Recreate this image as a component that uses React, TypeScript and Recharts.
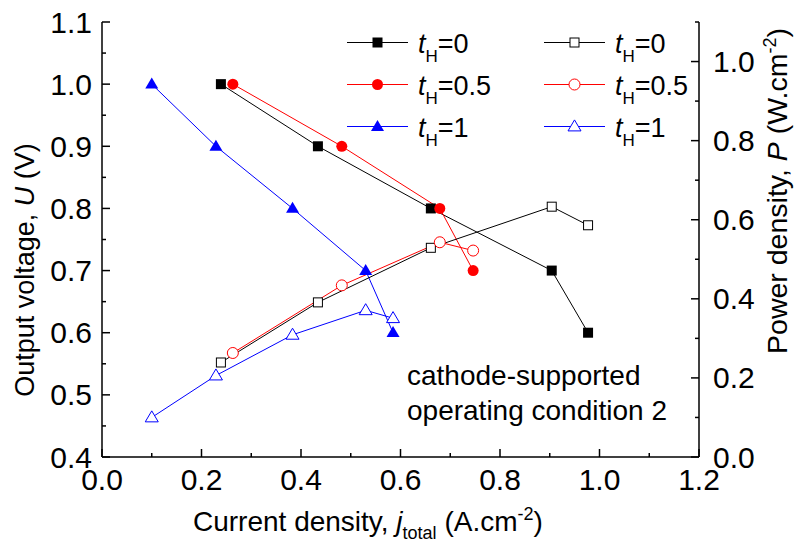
import React from "react";
import { LineChart, Line, XAxis, YAxis, Legend, Customized } from "recharts";

const FONT = '"Liberation Sans", Arial, sans-serif';

// current density (A/cm2) for each operating point
const J_T0 = [0.239, 0.434, 0.661, 0.904, 0.977];
const J_T05 = [0.263, 0.482, 0.679, 0.746];
const J_T1 = [0.1, 0.229, 0.383, 0.53, 0.585];

// output voltage (V)
const U_T0 = [1.0, 0.9, 0.8, 0.7, 0.6];
const U_T05 = [1.0, 0.9, 0.8, 0.7];
const U_T1 = [1.0, 0.9, 0.8, 0.7, 0.6];

// power density (W/cm2)
const P_T0 = [0.239, 0.391, 0.529, 0.633, 0.586];
const P_T05 = [0.263, 0.434, 0.543, 0.522];
const P_T1 = [0.1, 0.206, 0.309, 0.371, 0.351];

const X_TICKS = [0, 0.1, 0.2, 0.3, 0.4, 0.5, 0.6, 0.7, 0.8, 0.9, 1.0, 1.1, 1.2];
const U_TICKS = [0.4, 0.45, 0.5, 0.55, 0.6, 0.65, 0.7, 0.75, 0.8, 0.85, 0.9, 0.95, 1.0, 1.05, 1.1];
const P_TICKS = [0, 0.1, 0.2, 0.3, 0.4, 0.5, 0.6, 0.7, 0.8, 0.9, 1.0, 1.1];

const LABELS = ["0", "0.5", "1"];
const COLORS = ["#000000", "#ff0000", "#0000ff"];
const SHAPES = ["square", "circle", "triangle"];

const zip = (j: number[], v: number[]) => j.map((x, i) => ({ j: x, v: v[i] }));

const SERIES = [
  { id: "u0", data: zip(J_T0, U_T0), axis: "U", k: 0, filled: true },
  { id: "u05", data: zip(J_T05, U_T05), axis: "U", k: 1, filled: true },
  { id: "u1", data: zip(J_T1, U_T1), axis: "U", k: 2, filled: true },
  { id: "p0", data: zip(J_T0, P_T0), axis: "P", k: 0, filled: false },
  { id: "p05", data: zip(J_T05, P_T05), axis: "P", k: 1, filled: false },
  { id: "p1", data: zip(J_T1, P_T1), axis: "P", k: 2, filled: false },
];

function Marker({ cx, cy, shape, color, filled }: any) {
  const fill = filled ? color : "#fff";
  const sw = filled ? 0 : 1;
  if (shape === "square") {
    const s = filled ? 10 : 9;
    return <rect x={cx - s / 2} y={cy - s / 2} width={s} height={s} fill={fill} stroke={color} strokeWidth={sw} />;
  }
  if (shape === "circle") {
    return <circle cx={cx} cy={cy} r={5.5} fill={fill} stroke={color} strokeWidth={sw} />;
  }
  const h = 11;
  const w = 13;
  return (
    <polygon
      points={`${cx},${cy - h * 0.6} ${cx - w / 2},${cy + h * 0.4} ${cx + w / 2},${cy + h * 0.4}`}
      fill={fill}
      stroke={color}
      strokeWidth={sw}
    />
  );
}

const isMajor = (v: number, step: number) => Math.abs(Math.round(v / step) * step - v) < 1e-6;

const TICK_FS = 30;

const XTick = ({ x, y, payload }: any) => {
  const major = isMajor(payload.value, 0.2);
  return (
    <g>
      <line x1={x} y1={y} x2={x} y2={y - (major ? 8 : 4)} stroke="#000" strokeWidth={1.5} />
      {major && (
        <text x={x} y={y + 33} textAnchor="middle" fontSize={TICK_FS} fontFamily={FONT} fill="#000">
          {payload.value.toFixed(1)}
        </text>
      )}
    </g>
  );
};

const UTick = ({ x, y, payload }: any) => {
  const major = isMajor(payload.value, 0.1);
  return (
    <g>
      <line x1={x} y1={y} x2={x + (major ? 8 : 4)} y2={y} stroke="#000" strokeWidth={1.5} />
      {major && (
        <text x={x - 10} y={y + 10.5} textAnchor="end" fontSize={TICK_FS} fontFamily={FONT} fill="#000">
          {payload.value.toFixed(1)}
        </text>
      )}
    </g>
  );
};

const PTick = ({ x, y, payload }: any) => {
  const major = isMajor(payload.value, 0.2);
  return (
    <g>
      <line x1={x} y1={y} x2={x - (major ? 8 : 4)} y2={y} stroke="#000" strokeWidth={1.5} />
      {major && (
        <text x={x + 14} y={y + 10.5} textAnchor="start" fontSize={TICK_FS} fontFamily={FONT} fill="#000">
          {payload.value.toFixed(1)}
        </text>
      )}
    </g>
  );
};

const XTitle = () => (
  <text x={193} y={531} fontSize={28} fontFamily={FONT} fill="#000">
    Current density,{" "}
    <tspan fontStyle="italic">j</tspan>
    <tspan fontSize={18} dy={8}>total</tspan>
    <tspan dy={-8}> (A.cm</tspan>
    <tspan fontSize={18} dy={-11}>-2</tspan>
    <tspan dy={11}>)</tspan>
  </text>
);

const UTitle = () => (
  <text
    x={0}
    y={0}
    transform="translate(34,270) rotate(-90)"
    textAnchor="middle"
    fontSize={27}
    fontFamily={FONT}
    fill="#000"
  >
    Output voltage, <tspan fontStyle="italic">U</tspan> (V)
  </text>
);

const PTitle = () => (
  <text
    x={0}
    y={0}
    transform="translate(787,191) rotate(-90)"
    textAnchor="middle"
    fontSize={28.5}
    fontFamily={FONT}
    fill="#000"
  >
    Power density, <tspan fontStyle="italic">P</tspan> (W.cm
    <tspan fontSize={18} dy={-11}>-2</tspan>
    <tspan dy={11}>)</tspan>
  </text>
);

const LegendBox = () => {
  const rows = [42.5, 84.5, 126.5];
  const cols = [
    { x0: 347, x1: 408, tx: 418, filled: true },
    { x0: 544, x1: 605, tx: 615, filled: false },
  ];
  return (
    <svg width={795} height={545} style={{ position: "absolute", left: 0, top: 0 }}>
      {cols.map((c, ci) =>
        LABELS.map((lab, k) => {
          const y = rows[k];
          return (
            <g key={`${ci}-${k}`}>
              <line x1={c.x0} y1={y} x2={c.x1} y2={y} stroke={COLORS[k]} strokeWidth={1} />
              <Marker cx={(c.x0 + c.x1) / 2} cy={y} shape={SHAPES[k]} color={COLORS[k]} filled={c.filled} />
              <text x={c.tx} y={y + 10} fontSize={27} fontFamily={FONT} fill="#000">
                <tspan fontStyle="italic">t</tspan>
                <tspan fontSize={17} dy={9}>H</tspan>
                <tspan dy={-9}>={lab}</tspan>
              </text>
            </g>
          );
        })
      )}
    </svg>
  );
};

const Note = () => (
  <text fontSize={28} fontFamily={FONT} fill="#000">
    <tspan x={407} y={385}>cathode-supported</tspan>
    <tspan x={407} y={420}>operating condition 2</tspan>
  </text>
);

export default function App() {
  return (
    <div style={{ position: "absolute", left: 0, top: 0, width: 795, height: 545, background: "#fff" }}>
      <LineChart width={795} height={545} margin={{ top: 22, right: 0, bottom: 0, left: 0 }}>
        <XAxis
          dataKey="j"
          type="number"
          domain={[0, 1.2]}
          ticks={X_TICKS}
          interval={0}
          height={88}
          tickSize={0}
          tickMargin={0}
          tick={<XTick />}
          axisLine={{ stroke: "#000", strokeWidth: 1.5 }}
          tickLine={false}
          label={<XTitle />}
        />
        <XAxis
          xAxisId="top"
          orientation="top"
          dataKey="j"
          type="number"
          domain={[0, 1.2]}
          height={0}
          tick={false}
          tickLine={false}
          axisLine={{ stroke: "#000", strokeWidth: 1.5 }}
        />
        <YAxis
          yAxisId="U"
          orientation="left"
          type="number"
          domain={[0.4, 1.1]}
          ticks={U_TICKS}
          interval={0}
          width={102}
          tickSize={0}
          tickMargin={0}
          tick={<UTick />}
          tickLine={false}
          axisLine={{ stroke: "#000", strokeWidth: 1.5 }}
          label={<UTitle />}
        />
        <YAxis
          yAxisId="P"
          orientation="right"
          type="number"
          domain={[0, 1.1]}
          ticks={P_TICKS}
          interval={0}
          width={96}
          tickSize={0}
          tickMargin={0}
          tick={<PTick />}
          tickLine={false}
          axisLine={{ stroke: "#000", strokeWidth: 1.5 }}
          label={<PTitle />}
        />
        {SERIES.map((s) => (
          <Line
            key={s.id}
            data={s.data}
            dataKey="v"
            yAxisId={s.axis}
            type="linear"
            stroke={COLORS[s.k]}
            strokeWidth={1}
            isAnimationActive={false}
            activeDot={false}
            dot={(p: any) => (
              <Marker key={`${s.id}-${p.index}`} cx={p.cx} cy={p.cy} shape={SHAPES[s.k]} color={COLORS[s.k]} filled={s.filled} />
            )}
          />
        ))}
        <Customized component={<Note />} />
        <Legend
          layout="horizontal"
          verticalAlign="middle"
          align="center"
          content={() => <LegendBox />}
          wrapperStyle={{ left: 0, top: 0, width: 795, height: 545, pointerEvents: "none" }}
        />
      </LineChart>
    </div>
  );
}
